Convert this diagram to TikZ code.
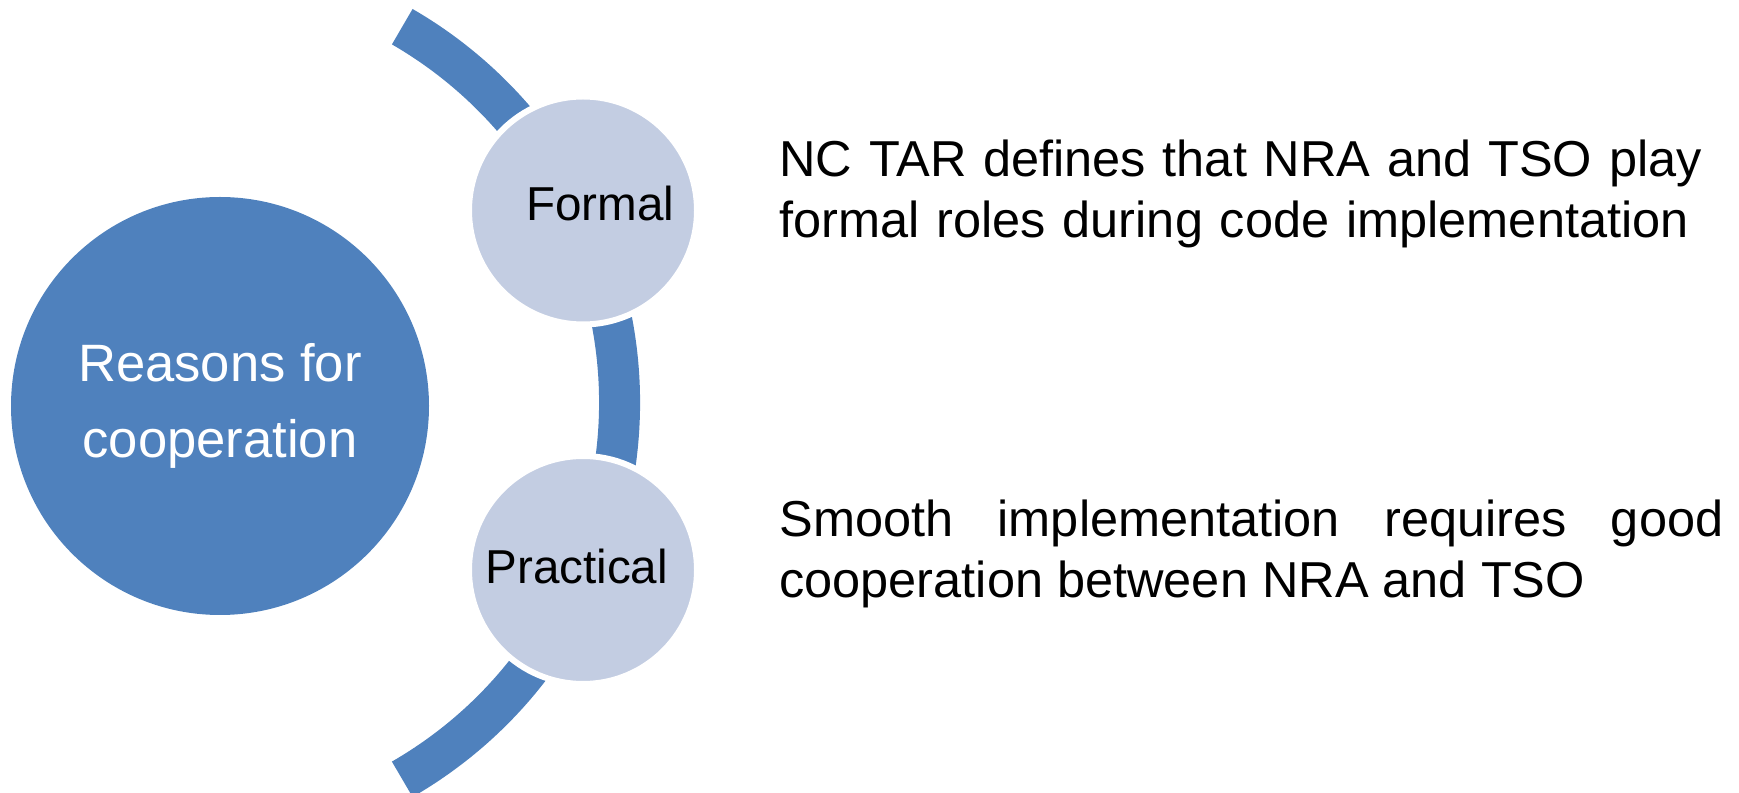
\documentclass[tikz,border=0pt]{standalone}
\usepackage{fontspec}
\setmainfont{Liberation Sans}
\usepackage{tikz}
\usetikzlibrary{positioning,calc}
\definecolor{mainblue}{HTML}{4F81BD}
\definecolor{paleblue}{HTML}{C3CDE2}

\begin{document}
\begin{tikzpicture}[
        x=0.5pt, y=0.5pt,
        band/.style={mainblue, line width=20.5pt},
        hub/.style={circle, fill=mainblue, minimum size=209pt, inner sep=0pt,
            text=white, align=center,
            font={\fontsize{26.3pt}{38pt}\selectfont}},
        reason/.style={circle, fill=paleblue, draw=white, line width=3pt,
            minimum size=114pt, inner sep=0pt},
        lbl/.style={inner sep=0pt, anchor=base west,
            font={\fontsize{23.8pt}{28pt}\selectfont}},
        desc/.style={inner sep=0pt, anchor=base west, text width=472pt,
            font={\fontsize{25.25pt}{30.5pt}\selectfont}},
    ]
    \useasboundingbox (0,0) rectangle (1739,792);
    % arc behind the two small circles
    \coordinate (arcc) at (185,389);
    \draw[band] ($(arcc)+(-60:434.5)$) arc[start angle=-60, end angle=60, radius=434.5];
    % circles
    \node[hub] (reasons) at (220,386) {Reasons for\\cooperation};
    \node[reason] (formal) at (583,581.5) {};
    \node[reason] (practical) at (583,222) {};
    \node[lbl] (formaltxt) at (526,571) {Formal};
    \node[lbl] (practicaltxt) at (485,208) {Practical};
    % descriptions
    \node[desc, align=left] (formaldesc) at (779,615)
        {NC TAR defines that NRA and TSO play\\formal roles during code implementation};
    \node[desc, align=justify] (practicaldesc) at (779,255)
        {Smooth implementation requires good\linebreak cooperation between NRA and TSO};
\end{tikzpicture}
\end{document}
